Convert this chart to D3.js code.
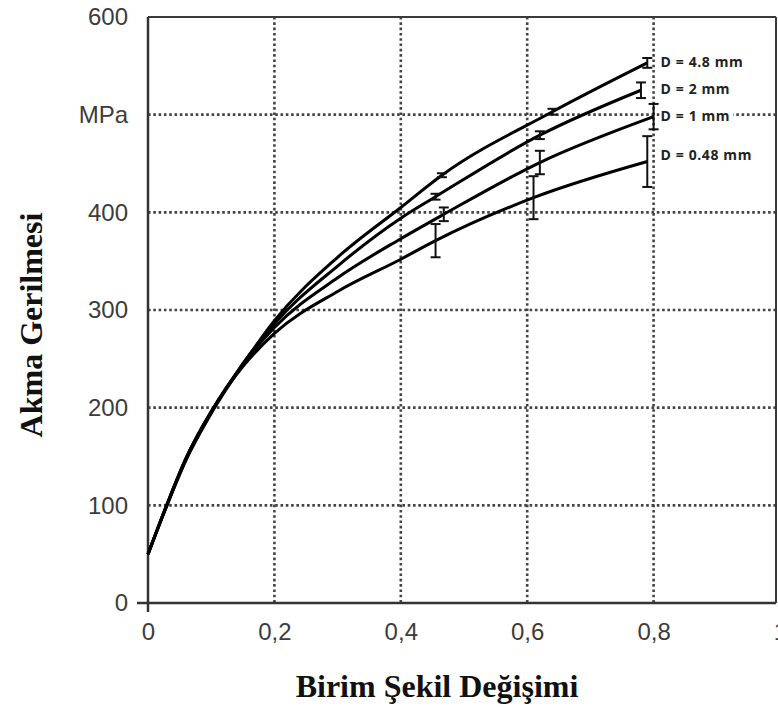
<!DOCTYPE html>
<html lang="tr">
<head>
<meta charset="UTF-8">
<title>Akma Gerilmesi</title>
<script src="https://d3js.org/d3.v7.min.js"></script>
<style>
  body { margin: 0; background: #fff; }
</style>
</head>
<body>
<svg width="778" height="709"></svg>
<script>
  // veriler: [birim şekil değişimi, akma gerilmesi MPa]
  var curveD48 = [[0, 50], [0.03, 100], [0.06, 146], [0.1, 194], [0.15, 244], [0.2, 289], [0.3, 354], [0.4, 405], [0.465, 438], [0.64, 503], [0.79, 553]];
  var curveD2 = [[0, 50], [0.03, 100], [0.06, 147], [0.1, 195], [0.15, 245], [0.2, 286], [0.3, 345], [0.4, 394], [0.455, 416], [0.62, 479], [0.78, 525]];
  var curveD1 = [[0, 50], [0.03, 101], [0.06, 148], [0.1, 196], [0.15, 244], [0.2, 282], [0.3, 333], [0.4, 373], [0.468, 398], [0.62, 451], [0.8, 498]];
  var curveD048 = [[0, 50], [0.03, 101], [0.06, 148], [0.1, 196], [0.15, 242], [0.2, 276], [0.3, 319], [0.4, 352], [0.455, 371], [0.61, 415], [0.79, 452]];

  // hata çubukları: [x, ortalama, ±]
  var errD48 = [[0.465, 438, 2], [0.64, 503, 3], [0.79, 553, 5]];
  var errD2 = [[0.455, 416, 3], [0.62, 479, 4], [0.78, 525, 8]];
  var errD1 = [[0.468, 398, 7], [0.62, 451, 12], [0.8, 498, 13]];
  var errD048 = [[0.455, 371, 17], [0.61, 415, 22], [0.79, 452, 26]];

  var seriesNames = ["D = 4.8 mm", "D = 2 mm", "D = 1 mm", "D = 0.48 mm"];

  var xTicks = [0, 0.2, 0.4, 0.6, 0.8, 1];
  var xTickLabels = ["0", "0,2", "0,4", "0,6", "0,8", "1"];
  var yTicks = [0, 100, 200, 300, 400, 500, 600];
  var yTickLabels = ["0", "100", "200", "300", "400", "MPa", "600"];

  var curves = [curveD48, curveD2, curveD1, curveD048];
  var errs = [errD48, errD2, errD1, errD048];

  var svg = d3.select('svg');
  var pLeft = 148, pTop = 17, pBottom = 603, pRight = 776;

  var x = d3.scaleLinear().domain([0, 1]).range([pLeft, 780]);
  var y = d3.scaleLinear().domain([0, 600]).range([pBottom, pTop]);

  // ızgara
  var grid = svg.append('g')
      .attr('stroke', '#444')
      .attr('stroke-width', 2.6)
      .attr('stroke-dasharray', '2.6,2.7');

  grid.selectAll('.gx')
      .data(xTicks.filter(function (d) { return d > 0 && d < 1; }))
      .enter().append('line')
      .attr('x1', function (d) { return x(d); })
      .attr('x2', function (d) { return x(d); })
      .attr('y1', pTop)
      .attr('y2', pBottom);

  grid.selectAll('.gy')
      .data(yTicks.filter(function (d) { return d > 0 && d < 600; }))
      .enter().append('line')
      .attr('x1', pLeft)
      .attr('x2', pRight)
      .attr('y1', function (d) { return y(d); })
      .attr('y2', function (d) { return y(d); });

  // çerçeve
  svg.append('line').attr('x1', pLeft).attr('x2', pRight).attr('y1', pTop).attr('y2', pTop)
      .attr('stroke', '#3a3a3a').attr('stroke-width', 2);
  svg.append('line').attr('x1', pRight).attr('x2', pRight).attr('y1', pTop).attr('y2', pBottom)
      .attr('stroke', '#3a3a3a').attr('stroke-width', 2);

  // eksenler
  var xAxis = svg.append('g')
      .attr('transform', 'translate(0,' + pBottom + ')')
      .call(d3.axisBottom(x).tickValues(xTicks)
          .tickFormat(function (d, i) { return xTickLabels[i]; })
          .tickSize(0).tickPadding(20));
  var yAxis = svg.append('g')
      .attr('transform', 'translate(' + pLeft + ',0)')
      .call(d3.axisLeft(y).tickValues(yTicks)
          .tickFormat(function (d, i) { return yTickLabels[i]; })
          .tickSize(0).tickPadding(20));

  [xAxis, yAxis].forEach(function (a) {
    a.select('.domain').remove();
    a.selectAll('text')
        .attr('fill', '#3c3c3c')
        .style('font-family', 'Liberation Sans, Arial, sans-serif')
        .style('font-size', '24px');
  });

  svg.append('line').attr('x1', pLeft).attr('x2', pLeft).attr('y1', pTop).attr('y2', pBottom + 9)
      .attr('stroke', '#333').attr('stroke-width', 2.5);
  svg.append('line').attr('x1', pLeft - 11).attr('x2', pRight).attr('y1', pBottom).attr('y2', pBottom)
      .attr('stroke', '#333').attr('stroke-width', 2.5);

  // eğriler
  var line = d3.line()
      .x(function (d) { return x(d[0]); })
      .y(function (d) { return y(d[1]); })
      .curve(d3.curveMonotoneX);

  svg.append('g').selectAll('path')
      .data(curves)
      .enter().append('path')
      .attr('d', line)
      .attr('fill', 'none')
      .attr('stroke', '#000')
      .attr('stroke-width', 3);

  // hata çubukları
  var bars = svg.append('g')
      .attr('stroke', '#111')
      .attr('stroke-width', 2)
      .selectAll('g')
      .data(d3.merge(errs))
      .enter().append('g');

  bars.append('line')
      .attr('x1', function (d) { return x(d[0]); })
      .attr('x2', function (d) { return x(d[0]); })
      .attr('y1', function (d) { return y(d[1] - d[2]); })
      .attr('y2', function (d) { return y(d[1] + d[2]); });
  bars.append('line')
      .attr('x1', function (d) { return x(d[0]) - 5; })
      .attr('x2', function (d) { return x(d[0]) + 5; })
      .attr('y1', function (d) { return y(d[1] - d[2]); })
      .attr('y2', function (d) { return y(d[1] - d[2]); });
  bars.append('line')
      .attr('x1', function (d) { return x(d[0]) - 5; })
      .attr('x2', function (d) { return x(d[0]) + 5; })
      .attr('y1', function (d) { return y(d[1] + d[2]); })
      .attr('y2', function (d) { return y(d[1] + d[2]); });

  // etiketler (beyaz zeminli)
  var labels = svg.append('g').selectAll('g')
      .data(curves)
      .enter().append('g');

  var labelTexts = labels.append('text')
      .attr('x', x(0.8) + 7)
      .attr('y', function (d, i) {
        var last = d[d.length - 1];
        return y(last[1]) - (i === 3 ? 6 : 1);
      })
      .attr('dy', '0.35em')
      .attr('fill', '#222')
      .style('font-family', 'Open Sans, sans-serif')
      .style('font-weight', 'bold')
      .style('font-size', '14px')
      .style('letter-spacing', '0.6px')
      .text(function (d, i) { return seriesNames[i]; });

  labelTexts.each(function () {
    var b = this.getBBox();
    d3.select(this.parentNode).insert('rect', 'text')
        .attr('x', b.x - 1)
        .attr('y', b.y)
        .attr('width', b.width + 4)
        .attr('height', b.height)
        .attr('fill', '#fff');
  });

  // eksen başlıkları
  svg.append('text')
      .attr('x', 437)
      .attr('y', 697)
      .attr('text-anchor', 'middle')
      .style('font-family', 'Liberation Serif, Times New Roman, serif')
      .style('font-weight', 'bold')
      .style('font-size', '32px')
      .attr('fill', '#111')
      .text('Birim Şekil Değişimi');

  svg.append('text')
      .attr('transform', 'translate(42,325) rotate(-90)')
      .attr('text-anchor', 'middle')
      .style('font-family', 'Liberation Serif, Times New Roman, serif')
      .style('font-weight', 'bold')
      .style('font-size', '32px')
      .attr('fill', '#111')
      .text('Akma Gerilmesi');
</script>
</body>
</html>
